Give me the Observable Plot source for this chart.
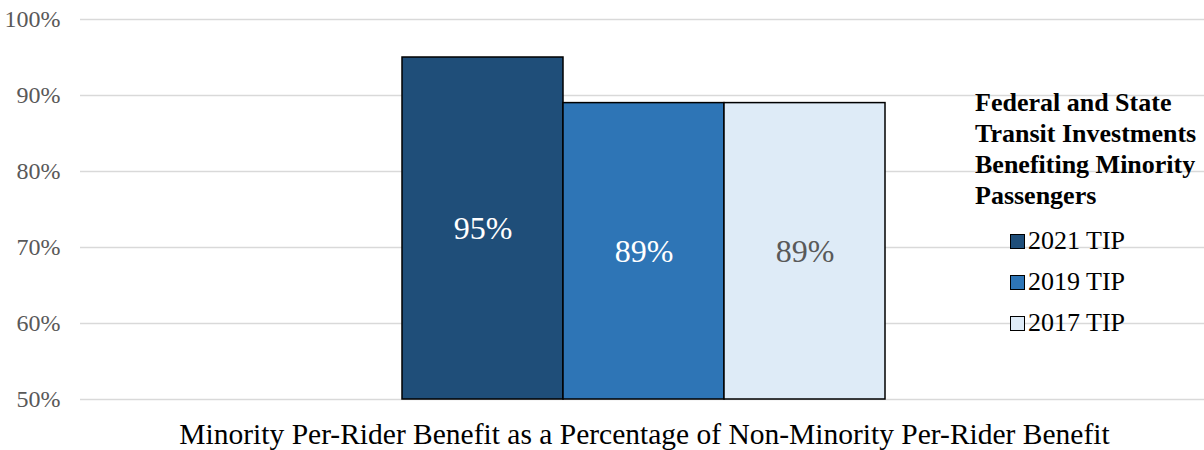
<!DOCTYPE html>
<html>
<head>
<meta charset="utf-8">
<script src="https://cdn.jsdelivr.net/npm/d3@7"></script>
<script src="https://cdn.jsdelivr.net/npm/@observablehq/plot@0.6"></script>
<style>
  html, body { margin: 0; padding: 0; background: #fff; overflow: hidden; }
  #wrap { position: relative; width: 1204px; height: 450px; overflow: hidden; font-family: "Liberation Serif", "Times New Roman", serif; }
  #legend { position: absolute; left: 975px; top: 87px; white-space: nowrap; }
  #legend .title { font-weight: bold; font-size: 26px; line-height: 31px; color: #000; }
  #legend .item { position: absolute; left: 35px; font-size: 26px; line-height: 30px; color: #000; display: flex; align-items: center; }
  #legend .sw { width: 15px; height: 15px; border: 1.5px solid #000; margin-right: 3px; box-sizing: border-box; }
</style>
</head>
<body>
<div id="wrap"></div>
<script>
const series = ["2021 TIP", "2019 TIP", "2017 TIP"];
const values = [95, 89, 89];
const labels = ["95%", "89%", "89%"];
const colors = ["#1f4e79", "#2e75b6", "#deebf7"];
const labelColors = ["#ffffff", "#ffffff", "#595959"];
const yTicks = [50, 60, 70, 80, 90, 100];
const legendTitle = ["Federal and State", "Transit Investments", "Benefiting Minority", "Passengers"];
const xTitle = "Minority Per-Rider Benefit as a Percentage of Non-Minority Per-Rider Benefit";

const data = series.map((s, i) => ({series: s, value: values[i], label: labels[i], labelColor: labelColors[i]}));

const chart = Plot.plot({
  width: 1204,
  height: 450,
  marginLeft: 80,
  marginRight: 0,
  marginTop: 19,
  marginBottom: 51,
  style: {fontFamily: "'Liberation Serif', 'Times New Roman', serif", background: "#fff"},
  x: {domain: series, range: [402, 885], padding: 0, axis: null},
  y: {domain: [50, 100], ticks: yTicks, tickFormat: d => d + "%", label: null},
  color: {domain: series, range: colors},
  marks: [
    Plot.ruleY(yTicks, {stroke: "#d9d9d9", strokeWidth: 1.3}),
    Plot.axisY({ticks: yTicks, tickFormat: d => d + "%", tickSize: 0, tickPadding: 20, fontSize: 24, color: "#595959", label: null}),
    Plot.barY(data, {x: "series", y1: 50, y2: "value", fill: "series", stroke: "#000", strokeWidth: 1.5}),
    Plot.text(data, {x: "series", y: d => (d.value + 50) / 2, text: "label", fill: "labelColor", fontSize: 32}),
    Plot.text([xTitle], {frameAnchor: "bottom", dx: 2, dy: 44, fontSize: 29.5, fill: "#000"})
  ]
});
const wrap = document.getElementById("wrap");
wrap.appendChild(chart);

const legend = document.createElement("div");
legend.id = "legend";
legend.innerHTML = legendTitle.map(t => `<div class="title">${t}</div>`).join("") +
  series.map((s, i) => `<div class="item" style="top:${139 + i * 41}px"><span class="sw" style="background:${colors[i]}"></span>${s}</div>`).join("");
wrap.appendChild(legend);
</script>
</body>
</html>
